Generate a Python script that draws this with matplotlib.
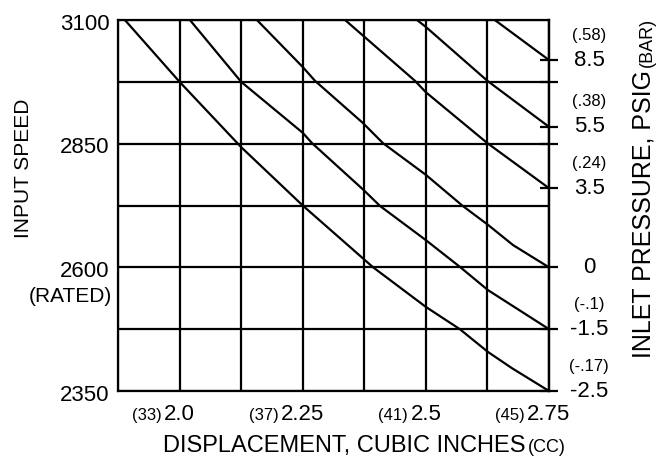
import matplotlib
matplotlib.use("Agg")
import matplotlib.pyplot as plt

# grid lines of the chart (displacement in cu in, input speed in rpm)
grid_x = [1.875, 2.0, 2.125, 2.25, 2.375, 2.5, 2.625, 2.75]
grid_y = [2350, 2475, 2600, 2725, 2850, 2975, 3100]

# labelled ticks
x_label_vals = [2.0, 2.25, 2.5, 2.75]
x_label_txt = ["2.0", "2.25", "2.5", "2.75"]
x_label_cc = ["(33)", "(37)", "(41)", "(45)"]
y_label_vals = [3100, 2850, 2600, 2350]
y_label_txt = ["3100", "2850", "2600", "2350"]

# one curve per inlet pressure
pressure_psig = ["8.5", "5.5", "3.5", "0", "-1.5", "-2.5"]
pressure_bar = ["(.58)", "(.38)", "(.24)", "", "(-.1)", "(-.17)"]

disp_85 = [2.640, 2.75]
speed_85 = [3100, 3019]
disp_55 = [2.482, 2.5, 2.625, 2.75]
speed_55 = [3100, 3086, 2977, 2884]
disp_35 = [2.336, 2.478, 2.5, 2.625, 2.75]
speed_35 = [3100, 2977, 2954, 2851, 2760]
disp_0 = [2.157, 2.25, 2.275, 2.372, 2.413, 2.5, 2.575, 2.626, 2.677, 2.75]
speed_0 = [3100, 3005, 2977, 2892, 2851, 2787, 2724, 2686, 2645, 2600]
disp_m15 = [2.021, 2.125, 2.25, 2.269, 2.374, 2.407, 2.5, 2.569, 2.626, 2.75]
speed_m15 = [3100, 2975, 2872, 2851, 2756, 2724, 2655, 2601, 2554, 2475]
disp_m25 = [1.889, 2.0, 2.125, 2.25, 2.393, 2.5, 2.569, 2.626, 2.675, 2.75]
speed_m25 = [3100, 2975, 2843, 2725, 2600, 2520, 2475, 2429, 2396, 2350]

curves = [(disp_85, speed_85), (disp_55, speed_55), (disp_35, speed_35),
          (disp_0, speed_0), (disp_m15, speed_m15), (disp_m25, speed_m25)]

FONT = ["Liberation Sans", "DejaVu Sans"]
LW = 1.6

fig = plt.figure(figsize=(6.66, 4.65), dpi=100)
ax = fig.add_axes([118 / 666, 1 - 391 / 465, 431 / 666, 371 / 465])
ax.set_xlim(grid_x[0], grid_x[-1])
ax.set_ylim(grid_y[0], grid_y[-1])
ax.set_xticks(grid_x)
ax.set_yticks(grid_y)
ax.grid(True, color="black", lw=LW)
ax.tick_params(length=0, labelbottom=False, labelleft=False)
for s in ax.spines.values():
    s.set_linewidth(LW)

for d, s in curves:
    ax.plot(d, s, color="black", lw=LW, solid_capstyle="butt", clip_on=False)

# right side tick marks at curve ends and extended grid lines
ax2 = ax.twinx()
ax2.set_ylim(ax.get_ylim())
ax2.set_yticks([s[-1] for d, s in curves] + [2975, 2850])
ax2.tick_params(direction="inout", length=13, width=LW, labelright=False)
for k, sp in ax2.spines.items():
    sp.set_visible(k == "right")
    sp.set_linewidth(LW)

# x tick labels
for v, t, cc in zip(x_label_vals, x_label_txt, x_label_cc):
    big = ax.annotate(t, xy=(v, 0), xycoords=("data", "axes fraction"),
                      xytext=(0, -21), textcoords="offset points",
                      ha="center", va="baseline", fontsize=16, family=FONT)
    ax.annotate(cc, xy=(0, 0), xycoords=(big, "axes fraction"),
                xytext=(-2, -21), textcoords="offset points",
                ha="right", va="baseline", fontsize=12, family=FONT)

# y tick labels
for v, t in zip(y_label_vals, y_label_txt):
    ax.annotate(t, xy=(0, v), xycoords=("axes fraction", "data"),
                xytext=(-6, -3), textcoords="offset points",
                ha="right", va="center", fontsize=16, family=FONT)
ax.annotate("(RATED)", xy=(0, 2600), xycoords=("axes fraction", "data"),
            xytext=(-4, -21), textcoords="offset points",
            ha="right", va="center", fontsize=15, family=FONT)

# pressure labels on the right
for (d, s), p, b in zip(curves, pressure_psig, pressure_bar):
    ax.annotate(p, xy=(1, s[-1]), xycoords=("axes fraction", "data"),
                xytext=(29, 0), textcoords="offset points",
                ha="center", va="center", fontsize=16, family=FONT)
    if b:
        ax.annotate(b, xy=(1, s[-1]), xycoords=("axes fraction", "data"),
                    xytext=(29, 18), textcoords="offset points",
                    ha="center", va="center", fontsize=12, family=FONT)

# axis titles
fig.text(24 / 666, 1 - 168 / 465, "INPUT SPEED", rotation=90,
         ha="center", va="center", fontsize=15, family=FONT)

yb = 1 - 452 / 465
xl = fig.text(163 / 666, yb, "DISPLACEMENT, CUBIC INCHES",
              ha="left", va="baseline", fontsize=17, family=FONT)
ax.annotate("(CC)", xy=(1, yb), xycoords=(xl, "figure fraction"),
            xytext=(2, 0), textcoords="offset points",
            ha="left", va="baseline", fontsize=13, family=FONT)

rl = fig.text(644 / 666, 1 - 358 / 465, "INLET PRESSURE, PSIG", rotation=90,
              ha="center", va="bottom", fontsize=18, family=FONT)
ax.annotate("(BAR)", xy=(1, 1), xycoords=rl,
            xytext=(0, 2), textcoords="offset points", rotation=90,
            ha="right", va="bottom", fontsize=13, family=FONT)

fig.savefig("out.png", dpi=100, facecolor="white")
